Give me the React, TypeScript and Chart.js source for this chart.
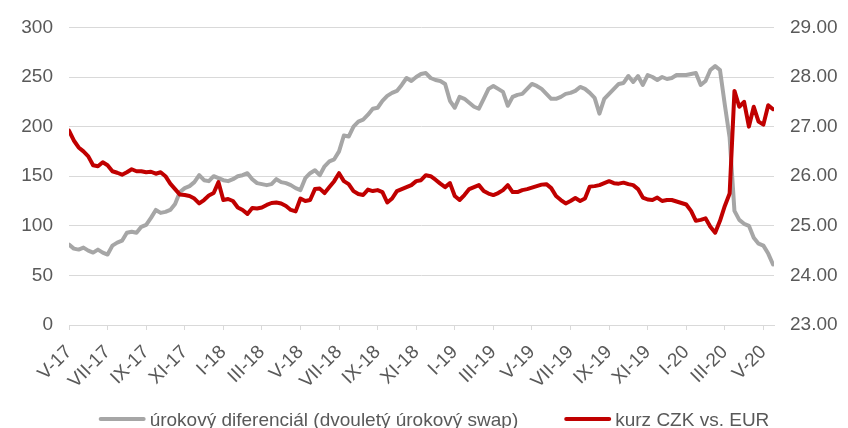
import { useEffect, useRef } from "react";
import { Chart, registerables } from "chart.js";

Chart.register(...registerables);

// Axis labels: every second month, May 2017 – May 2020
const monthLabels = [
  "V-17", "VII-17", "IX-17", "XI-17",
  "I-18", "III-18", "V-18", "VII-18", "IX-18", "XI-18",
  "I-19", "III-19", "V-19", "VII-19", "IX-19", "XI-19",
  "I-20", "III-20", "V-20",
];

// Samples are taken every quarter of a month, starting at the beginning of May 2017
const SAMPLE_STEP = 0.25;
const X_MAX = 36.55;

// Two-year interest rate swap differential (basis points, left axis)
const swapSpread = [
  81, 77, 76, 78, 75, 73, 76, 73, 71, 80,
  83, 85, 93, 94, 93, 99, 101, 108, 116, 113,
  114, 116, 122, 134, 138, 140, 144, 151, 146, 145,
  150, 148, 146, 145, 147, 150, 151, 153, 147, 143,
  142, 141, 142, 147, 144, 143, 141, 138, 136, 148,
  153, 156, 151, 160, 165, 167, 175, 191, 190, 200,
  205, 207, 212, 218, 219, 226, 231, 234, 236, 242,
  249, 246, 250, 253, 254, 249, 247, 246, 243, 226,
  219, 230, 228, 224, 220, 218, 228, 238, 241, 238,
  235, 221, 230, 232, 233, 238, 243, 241, 238, 233,
  228, 228, 230, 233, 234, 236, 240, 238, 234, 229,
  213, 228, 233, 238, 243, 244, 251, 245, 251, 242,
  252, 250, 247, 250, 248, 249, 252, 252, 252, 253,
  254, 242, 246, 257, 261, 257, 222, 189, 115, 106,
  102, 100, 88, 82, 80, 72, 61,
];

// CZK per EUR exchange rate (right axis)
const czkEur = [
  26.92, 26.72, 26.58, 26.5, 26.4, 26.22, 26.2, 26.28, 26.22, 26.1,
  26.07, 26.03, 26.08, 26.14, 26.1, 26.1, 26.08, 26.09, 26.05, 26.08,
  26.0, 25.85, 25.74, 25.63, 25.62, 25.6, 25.55, 25.45, 25.52, 25.61,
  25.66, 25.88, 25.52, 25.54, 25.5, 25.37, 25.32, 25.24, 25.36, 25.35,
  25.37, 25.42, 25.46, 25.47, 25.45, 25.4, 25.32, 25.29, 25.55, 25.5,
  25.52, 25.74, 25.75, 25.66, 25.78, 25.9, 26.06, 25.9, 25.84, 25.7,
  25.64, 25.62, 25.73, 25.7, 25.72, 25.68, 25.47, 25.55, 25.7, 25.74,
  25.78, 25.82, 25.9, 25.92, 26.02, 26.0, 25.93, 25.85, 25.78, 25.86,
  25.6, 25.52, 25.62, 25.74, 25.78, 25.82, 25.7, 25.65, 25.62, 25.66,
  25.72, 25.82, 25.68, 25.68, 25.72, 25.74, 25.77, 25.8, 25.83, 25.84,
  25.76, 25.6, 25.52, 25.45, 25.5, 25.56, 25.5, 25.55, 25.79, 25.8,
  25.82, 25.86, 25.9, 25.86, 25.85, 25.87, 25.84, 25.82, 25.74, 25.57,
  25.53, 25.52, 25.57, 25.5, 25.52, 25.52, 25.49, 25.46, 25.43, 25.3,
  25.1, 25.12, 25.15, 24.98, 24.86, 25.1, 25.4, 25.65, 27.72, 27.4,
  27.5, 27.0, 27.4, 27.1, 27.04, 27.43, 27.35,
];

const seriesNames = ["úrokový diferenciál (dvouletý úrokový swap)", "kurz CZK vs. EUR"];
const seriesColors = ["#a6a6a6", "#c00000"];

const FONT = "'Liberation Sans', Arial, sans-serif";
const TEXT_COLOR = "#595959";
const GRID_COLOR = "#d9d9d9";

const toPoints = (values: number[]) => values.map((y, i) => ({ x: i * SAMPLE_STEP, y }));

// Legend row drawn below the x axis: a short line sample followed by the series name
const bottomLegend = {
  id: "bottomLegend",
  afterDraw(chart: any) {
    const { ctx } = chart;
    ctx.save();
    ctx.font = `19px ${FONT}`;
    const sampleLen = 47;
    const textGap = 4;
    const itemGap = 46;
    const items = chart.data.datasets.map((ds: any) => ({
      label: ds.label as string,
      color: ds.borderColor as string,
      width: sampleLen + textGap + ctx.measureText(ds.label).width,
    }));
    const total = items.reduce((s: number, it: any) => s + it.width, 0) + itemGap * (items.length - 1);
    let x = chart.width / 2 + 10 - total / 2;
    const lineY = 419;
    const baseY = 426;
    for (const it of items) {
      ctx.strokeStyle = it.color;
      ctx.lineWidth = 4;
      ctx.lineCap = "round";
      ctx.beginPath();
      ctx.moveTo(x + 2, lineY);
      ctx.lineTo(x + sampleLen - 2, lineY);
      ctx.stroke();
      ctx.fillStyle = TEXT_COLOR;
      ctx.textAlign = "left";
      ctx.textBaseline = "alphabetic";
      ctx.fillText(it.label, x + sampleLen + textGap, baseY);
      x += it.width + itemGap;
    }
    ctx.restore();
  },
};

export default function App() {
  const canvasRef = useRef<HTMLCanvasElement | null>(null);

  useEffect(() => {
    const canvas = canvasRef.current;
    if (!canvas) return;
    const chart = new Chart(canvas, {
      type: "line",
      data: {
        datasets: [
          {
            label: seriesNames[0],
            data: toPoints(swapSpread),
            borderColor: seriesColors[0],
            backgroundColor: seriesColors[0],
            borderWidth: 4,
            pointRadius: 0,
            tension: 0,
            borderJoinStyle: "round",
            borderCapStyle: "round",
            yAxisID: "y",
            order: 1,
          },
          {
            label: seriesNames[1],
            data: toPoints(czkEur),
            borderColor: seriesColors[1],
            backgroundColor: seriesColors[1],
            borderWidth: 4,
            pointRadius: 0,
            tension: 0,
            borderJoinStyle: "round",
            borderCapStyle: "round",
            yAxisID: "y1",
            order: 0,
          },
        ],
      },
      options: {
        animation: false,
        responsive: false,
        devicePixelRatio: 1,
        layout: { padding: { top: 16, left: 0, right: 0, bottom: 0 } },
        plugins: {
          legend: { display: false },
          tooltip: { enabled: false },
        },
        scales: {
          x: {
            type: "linear",
            min: 0,
            max: X_MAX,
            afterBuildTicks: (scale: any) => {
              scale.ticks = monthLabels.map((_, i) => ({ value: i * 2 }));
            },
            afterFit: (scale: any) => {
              scale.height = 103;
            },
            grid: {
              drawOnChartArea: false,
              drawTicks: true,
              tickLength: 5,
              color: GRID_COLOR,
            },
            border: { display: true, color: GRID_COLOR },
            ticks: {
              autoSkip: false,
              maxRotation: 45,
              minRotation: 45,
              padding: 11,
              color: TEXT_COLOR,
              font: { family: FONT, size: 19 },
              callback: (value: any) => monthLabels[Math.round(Number(value) / 2)] ?? "",
            },
          },
          y: {
            position: "left",
            min: 0,
            max: 300,
            afterFit: (scale: any) => {
              scale.width = 69;
            },
            grid: { color: GRID_COLOR, drawTicks: false },
            border: { display: false },
            ticks: {
              stepSize: 50,
              padding: 16,
              color: TEXT_COLOR,
              font: { family: FONT, size: 19 },
            },
          },
          y1: {
            position: "right",
            min: 23,
            max: 29,
            afterFit: (scale: any) => {
              scale.width = 74;
            },
            grid: { drawOnChartArea: false, drawTicks: false },
            border: { display: false },
            ticks: {
              stepSize: 1,
              padding: 16,
              color: TEXT_COLOR,
              font: { family: FONT, size: 19 },
              callback: (value: any) => Number(value).toFixed(2),
            },
          },
        },
      },
      plugins: [bottomLegend],
    });
    return () => chart.destroy();
  }, []);

  return (
    <div style={{ position: "fixed", left: 0, top: 0, width: 848, height: 428, background: "#ffffff" }}>
      <canvas ref={canvasRef} width={848} height={428} />
    </div>
  );
}
